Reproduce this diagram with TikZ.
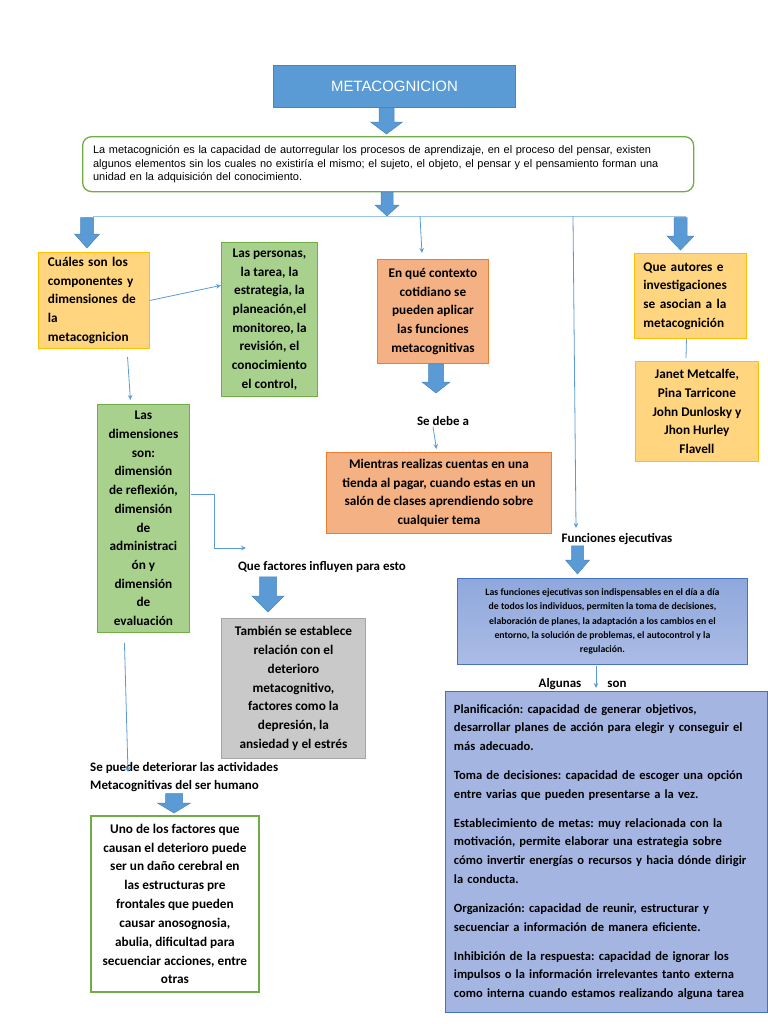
\documentclass[tikz,border=0pt]{standalone}
\usepackage{fontspec}
\setmainfont{Carlito}
\newfontfamily\arialf{Liberation Sans}
\usetikzlibrary{arrows.meta,calc}
\frenchspacing

\definecolor{bfill}{HTML}{5B9BD5}
\definecolor{bdraw}{HTML}{4A84BE}
\definecolor{gfill}{HTML}{A9D18E}
\definecolor{gdraw}{HTML}{70AD47}
\definecolor{yfill}{HTML}{FFD580}
\definecolor{ydraw}{HTML}{FFC000}
\definecolor{sfill}{HTML}{F4B183}
\definecolor{sdraw}{HTML}{ED7D31}
\definecolor{grfill}{HTML}{C9C9C9}
\definecolor{grdraw}{HTML}{A5A5A5}
\definecolor{lfill}{HTML}{A4B5E1}
\definecolor{ltop}{HTML}{8FA8DC}
\definecolor{lbot}{HTML}{ABBCE5}
\definecolor{ldraw}{HTML}{4472C4}
\definecolor{conncol}{HTML}{5B9BD5}
\definecolor{hlcol}{HTML}{9DC3E6}

\newcommand\jl[2]{\makebox[#1bp][s]{#2}}
% block arrow: x centre, top coord, tip coord, half shaft, half head, head length
\newcommand\blk[6]{%
  \filldraw[fill=bfill, draw=bdraw, line width=0.5bp] let \p1=#2, \p2=#3 in
  (#1bp-#4bp,\y1) -- (#1bp+#4bp,\y1) -- (#1bp+#4bp,\y2+#6bp) -- (#1bp+#5bp,\y2+#6bp)
  -- (#1bp,\y2) -- (#1bp-#5bp,\y2+#6bp) -- (#1bp-#4bp,\y2+#6bp) -- cycle;}

\tikzset{
  box/.style={draw, line width=0.9bp, inner sep=0pt, anchor=north west, align=center,
    font=\fontsize{13.3}{18.8}\selectfont\bfseries},
  gbox/.style={box, fill=gfill, draw=gdraw},
  ybox/.style={box, fill=yfill, draw=ydraw},
  sbox/.style={box, fill=sfill, draw=sdraw},
  lbl/.style={inner sep=0pt, font=\fontsize{13}{18}\selectfont\bfseries},
  conn/.style={draw=conncol, line width=0.8bp, -{Stealth[length=5bp,width=4.5bp]}},
  plainconn/.style={draw=conncol, line width=0.8bp},
}

\begin{document}
\begin{tikzpicture}[x=1bp,y=-1bp]
\useasboundingbox (0,0) rectangle (768,1024);
\fill[white] (0,0) rectangle (768,1024);

% title
\node[box, fill=bfill, draw=bdraw, minimum width=242bp, minimum height=42bp,
  font=\arialf\fontsize{15}{17}\selectfont, text=white] (title) at (273,65) {METACOGNICION};

% description
\node[box, draw=gdraw, line width=1.3bp, rounded corners=9bp, fill=white,
  minimum width=611bp, minimum height=55bp, text width=590bp, align=left,
  font=\arialf\fontsize{11}{14}\selectfont] (desc) at (82,136)
  {\jl{590}{La metacognición es la capacidad de autorregular los procesos de aprendizaje, en el proceso del pensar, existen}\\
   \jl{590}{algunos elementos sin los cuales no existiría el mismo; el sujeto, el objeto, el pensar y el pensamiento forman una}\\
   unidad en la adquisición del conocimiento.};

% level 2 boxes
\node[ybox, minimum width=111bp, minimum height=96bp, text width=92bp, align=left] (cuales) at (38,252)
  {\jl{92}{Cuáles son los}\\ \jl{92}{componentes y}\\ \jl{92}{dimensiones de}\\ la\\ metacognicion};

\node[gbox, minimum width=96bp, minimum height=154bp] (personas) at (221,242)
  {Las personas,\\ la tarea, la\\ estrategia, la\\ planeación,el\\ monitoreo, la\\ revisión, el\\ conocimiento\\ el control,};

\node[sbox, minimum width=111bp, minimum height=104bp] (enque) at (377,259)
  {En qué contexto\\ cotidiano se\\ pueden aplicar\\ las funciones\\ metacognitivas};

\node[ybox, minimum width=112bp, minimum height=85bp, text width=94bp, align=left] (autores) at (634,253)
  {\jl{94}{Que autores e}\\ investigaciones\\ \jl{94}{se asocian a la}\\ metacognición};

\node[ybox, minimum width=123bp, minimum height=100bp] (janet) at (635,361)
  {Janet Metcalfe,\\ Pina Tarricone\\ John Dunlosky y\\ Jhon Hurley\\ Flavell};

\node[gbox, minimum width=92bp, minimum height=228bp] (dims) at (97,404)
  {Las\\ dimensiones\\ son:\\ dimensión\\ de reflexión,\\ dimensión\\ de\\ administraci\\ ón y\\ dimensión\\ de\\ evaluación};

\node[sbox, minimum width=225bp, minimum height=81bp] (mientras) at (326,452)
  {Mientras realizas cuentas en una\\ tienda al pagar, cuando estas en un\\ salón de clases aprendiendo sobre\\ cualquier tema};

\node[box, fill=grfill, draw=grdraw, minimum width=144bp, minimum height=140bp] (gray) at (221,618)
  {También se establece\\ relación con el\\ deterioro\\ metacognitivo,\\ factores como la\\ depresión, la\\ ansiedad y el estrés};

\node[box, fill=white, draw=gdraw, line width=1.8bp, minimum width=168bp, minimum height=176bp,
  font=\fontsize{13.3}{18.9}\selectfont\bfseries] (uno) at (90,815)
  {Uno de los factores que\\ causan el deterioro puede\\ ser un daño cerebral en\\ las estructuras pre\\ frontales que pueden\\ causar anosognosia,\\ abulia, dificultad para\\ secuenciar acciones, entre\\ otras};

\node[box, top color=ltop, bottom color=lbot, draw=ldraw, minimum width=290bp, minimum height=86bp,
  font=\fontsize{9.8}{14.4}\selectfont\bfseries] (func) at (457,578)
  {Las funciones ejecutivas son indispensables en el día a día\\
   de todos los individuos, permiten la toma de decisiones,\\
   elaboración de planes, la adaptación a los cambios en el\\
   entorno, la solución de problemas, el autocontrol y la\\
   regulación.};

\node[box, fill=lfill, draw=ldraw, minimum width=322bp, minimum height=321bp, text width=305bp, align=left,
  font=\fontsize{12.6}{18.7}\selectfont\bfseries] (big) at (445,691)
  {Planificación: capacidad de generar objetivos,\\
   desarrollar planes de acción para elegir y conseguir el\\
   más adecuado.\\[10.5bp]
   Toma de decisiones: capacidad de escoger una opción\\
   entre varias que pueden presentarse a la vez.\\[10.5bp]
   Establecimiento de metas: muy relacionada con la\\
   motivación, permite elaborar una estrategia sobre\\
   cómo invertir energías o recursos y hacia dónde dirigir\\
   la conducta.\\[10.5bp]
   Organización: capacidad de reunir, estructurar y\\
   secuenciar a información de manera eficiente.\\[10.5bp]
   Inhibición de la respuesta: capacidad de ignorar los\\
   impulsos o la información irrelevantes tanto externa\\
   como interna cuando estamos realizando alguna tarea};

% free labels
\node[lbl] (sedebe) at (443,421) {Se debe a};
\node[lbl] (qf) at (322,567) {Que factores influyen para esto};
\node[lbl, anchor=north west, align=left] (sp) at (90,762)
  {Se puede deteriorar las actividades\\ Metacognitivas del ser humano};
\node[lbl] (fe) at (617,539) {Funciones ejecutivas};
\node[lbl] (alg) at (560,684) {Algunas};
\node[lbl] (son) at (617,684) {son};

% coordinates
\coordinate (hl) at (93,216);
\coordinate (hr) at (686,216);
\coordinate (h3) at (420,216);
\coordinate (h4) at (573,216);
\coordinate (fetip) at (576,528);
\coordinate (qftip) at (246,548);
\coordinate (sptip) at (128,772);
\coordinate (algtip) at (596,688);
\coordinate (etip) at (436,393);

% horizontal distribution line
\draw[hlcol, line width=1bp] (hl) -- (hr);

% block arrows
\blk{386.5}{(title.south)}{($(desc.north)+(0,-2)$)}{7.5}{16}{12}
\blk{387}{(desc.south)}{(h3 |- hl)}{6}{12}{11}
\blk{87}{($(hl)+(0,1.5)$)}{($(cuales.north)+(0,-4)$)}{6.5}{12.5}{14}
\blk{680.5}{($(hr)+(0,1.5)$)}{($(autores.north)+(0,-3)$)}{6.5}{13.5}{14}
\blk{436}{(enque.south)}{(etip)}{7.5}{14}{11}
\blk{268}{($(qf.south)+(0,4)$)}{($(gray.north)+(0,-6)$)}{8.5}{16}{16}
\blk{577.5}{($(fe.south)+(0,1)$)}{($(func.north)+(0,-4)$)}{6}{12}{14}
\blk{174}{($(sp.south)+(0,2)$)}{($(uno.north)+(0,-2)$)}{8.5}{16.5}{10}

% thin connectors
\draw[conn] (cuales.east) -- ($(personas.north west)!0.28!(personas.south west)$);
\draw[conn] ($(cuales.south west)!0.8!(cuales.south east)+(0,8)$) -- ($(dims.north west)!0.36!(dims.north east)+(0,-4)$);
\draw[conn] (h3) -- ($(enque.north)+(-11,-6)$);
\draw[conn] (h4) -- (fetip);
\draw[plainconn] ($(autores.south)+(-4,0)$) -- ($(janet.north west)+(51,-3)$);
\draw[conn] ($(sedebe.south)+(-10,1)$) -- ($(mientras.north)+(-2.5,-3)$);
\draw[conn] ($(dims.north east)+(1,90)$) -- ++(23,0) |- (qftip);
\draw[conn] ($(dims.south)+(-19,10)$) -- (sptip);
\draw[conn] ($(func.south west)+(139,1)$) -- (algtip);
\end{tikzpicture}
\end{document}
